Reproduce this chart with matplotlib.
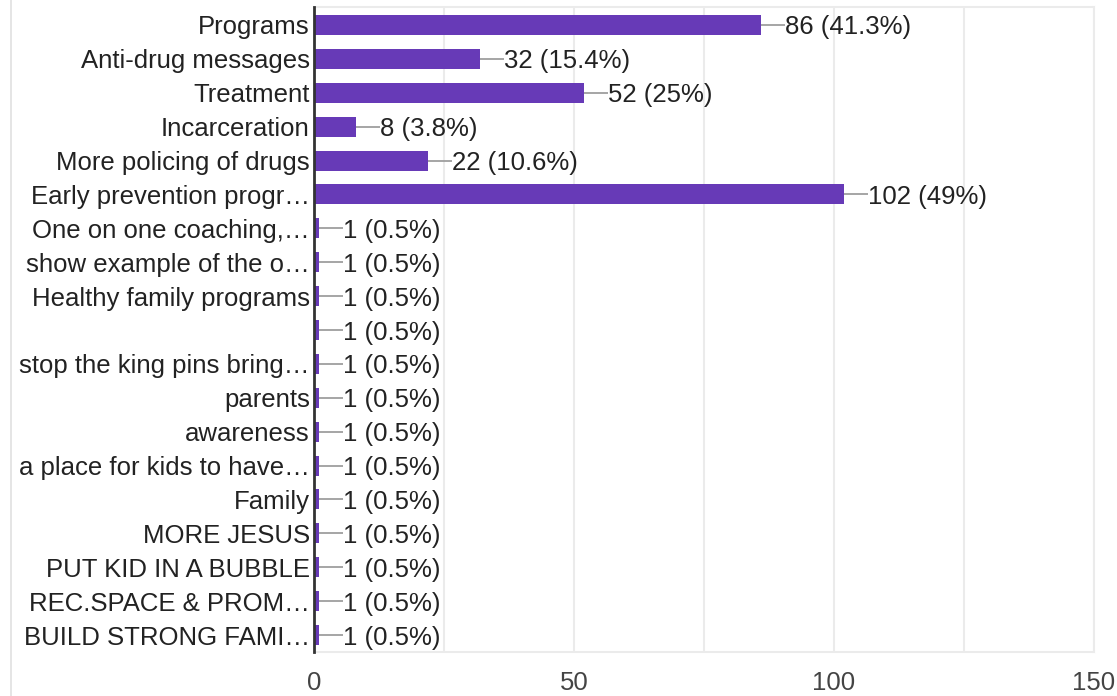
import matplotlib
matplotlib.use("Agg")
import matplotlib.pyplot as plt
from matplotlib.lines import Line2D

plt.rcParams['font.family'] = ['Liberation Sans', 'DejaVu Sans']

labels = ["Programs", "Anti-drug messages", "Treatment", "Incarceration",
          "More policing of drugs", "Early prevention progr\u2026",
          "One on one coaching,\u2026", "show example of the o\u2026",
          "Healthy family programs", "", "stop the king pins bring\u2026",
          "parents", "awareness", "a place for kids to have\u2026", "Family",
          "MORE JESUS", "PUT KID IN A BUBBLE", "REC.SPACE & PROM\u2026",
          "BUILD STRONG FAMI\u2026"]
counts = [86, 32, 52, 8, 22, 102, 1, 1, 1, 1, 1, 1, 1, 1, 1, 1, 1, 1, 1]
pcts = ["41.3%", "15.4%", "25%", "3.8%", "10.6%", "49%"] + ["0.5%"] * 13
xticks = [0, 50, 100, 150]

W, H = 1117, 696
fig = plt.figure(figsize=(W / 100, H / 100), dpi=100)
ax = fig.add_axes([314 / W, 1 - 652 / H, (1094 - 314) / W, (652 - 7) / H])

y = list(range(len(labels)))
ax.barh(y, counts, height=0.59, color="#673ab7", zorder=3)

for i, (c, p) in enumerate(zip(counts, pcts)):
    ax.plot([c, c + 4.6], [i, i], color="#9e9e9e", lw=1.3, zorder=3,
            solid_capstyle="butt")
    ax.text(c + 4.6, i, f"{c} ({p})", va="center_baseline", ha="left",
            fontsize=18.5, color="#222222")

ax.set_xlim(0, 150)
ax.set_ylim(len(labels) - 0.5, -0.53)
ax.set_yticks(y)
ax.set_yticklabels(labels, fontsize=18.5, color="#222222",
                   va="center_baseline")
ax.set_xticks(xticks)
ax.set_xticklabels([str(t) for t in xticks], fontsize=18.5, color="#444444")
ax.set_xticks(range(0, 151, 25), minor=True)
ax.tick_params(axis="both", which="both", length=0)
ax.tick_params(axis="x", pad=14)
ax.tick_params(axis="y", pad=3)
ax.grid(axis="x", which="both", color="#ebebeb", lw=1.5, zorder=0)

for s in ["top", "right", "bottom"]:
    ax.spines[s].set_color("#ebebeb")
    ax.spines[s].set_linewidth(1.5)
ax.spines["left"].set_color("#333333")
ax.spines["left"].set_linewidth(2)
ax.spines["left"].set_zorder(4)

# light frame line on the left edge of the card
fig.add_artist(Line2D([10.5 / W, 10.5 / W], [0, 1], color="#e0e0e0", lw=1.2))

fig.savefig("out.png", dpi=100)
